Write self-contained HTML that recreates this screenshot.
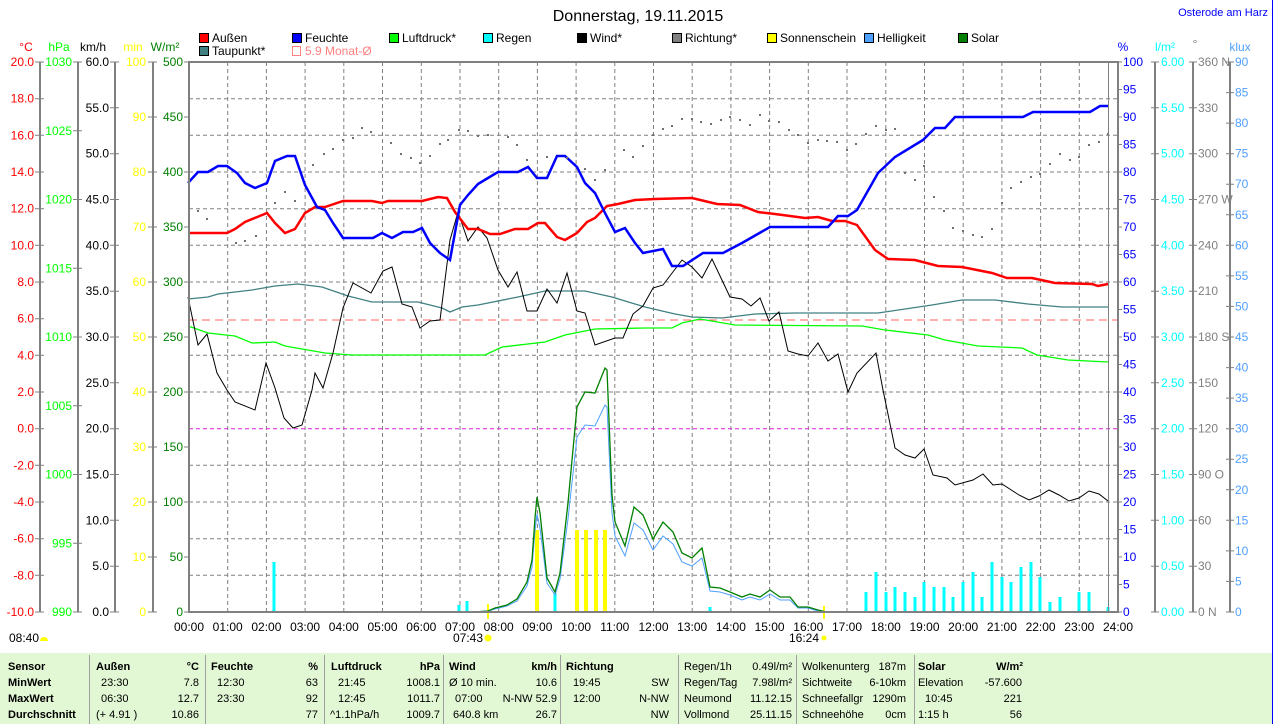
<!DOCTYPE html>
<html><head><meta charset="utf-8"><style>
html,body{margin:0;padding:0;background:#fff;}
svg{display:block;font-family:"Liberation Sans",sans-serif;}
</style></head><body>
<svg width="1274" height="724" viewBox="0 0 1274 724" xmlns="http://www.w3.org/2000/svg">
<rect width="1274" height="724" fill="#fff"/>
<text x="638" y="21" font-size="16" text-anchor="middle" fill="#000">Donnerstag, 19.11.2015</text>
<text x="1268" y="16" font-size="11" text-anchor="end" fill="#0000ff">Osterode am Harz</text>
<line x1="1272.5" y1="0" x2="1272.5" y2="724" stroke="#0000ff" stroke-width="1"/>
<g font-size="12" fill="#000">
<rect x="199.5" y="33.5" width="9" height="9" fill="#ff0000" stroke="#000"/><text x="212" y="42">Außen</text>
<rect x="292.5" y="33.5" width="9" height="9" fill="#0000ff" stroke="#000"/><text x="305" y="42">Feuchte</text>
<rect x="389.5" y="33.5" width="9" height="9" fill="#00ff00" stroke="#000"/><text x="402" y="42">Luftdruck*</text>
<rect x="483.5" y="33.5" width="9" height="9" fill="#00ffff" stroke="#000"/><text x="496" y="42">Regen</text>
<rect x="577.5" y="33.5" width="9" height="9" fill="#000" stroke="#000"/><text x="590" y="42">Wind*</text>
<rect x="672.5" y="33.5" width="9" height="9" fill="#808080" stroke="#000"/><text x="685" y="42">Richtung*</text>
<rect x="767.5" y="33.5" width="9" height="9" fill="#ffff00" stroke="#000"/><text x="780" y="42">Sonnenschein</text>
<rect x="864.5" y="33.5" width="9" height="9" fill="#50a0ff" stroke="#000"/><text x="877" y="42">Helligkeit</text>
<rect x="958.5" y="33.5" width="9" height="9" fill="#008000" stroke="#000"/><text x="971" y="42">Solar</text>
<rect x="199.5" y="46.5" width="9" height="9" fill="#408080" stroke="#000"/><text x="212" y="55">Taupunkt*</text>
<rect x="292.5" y="46.5" width="8" height="9" fill="none" stroke="#ff8080"/><text x="305" y="55" fill="#ff8080">5.9 Monat-Ø</text>
</g>
<g font-size="12">
<text x="26" y="51" text-anchor="middle" fill="#ff0000">°C</text>
<text x="59" y="51" text-anchor="middle" fill="#00ff00">hPa</text>
<text x="93" y="51" text-anchor="middle" fill="#000">km/h</text>
<text x="133" y="51" text-anchor="middle" fill="#ffff00">min</text>
<text x="165" y="51" text-anchor="middle" fill="#008000">W/m²</text>
<text x="1123" y="51" text-anchor="middle" fill="#0000ff">%</text>
<text x="1165" y="51" text-anchor="middle" fill="#00ffff">l/m²</text>
<text x="1195" y="48" text-anchor="middle" fill="#808080">°</text>
<text x="1240" y="51" text-anchor="middle" fill="#50a0ff">klux</text>
</g>
<g stroke="#808080" stroke-width="2">
<line x1="40" y1="62" x2="40" y2="612"/>
<line x1="78" y1="62" x2="78" y2="612"/>
<line x1="115" y1="62" x2="115" y2="612"/>
<line x1="153" y1="62" x2="153" y2="612"/>
<line x1="1155" y1="62" x2="1155" y2="612"/>
<line x1="1193" y1="62" x2="1193" y2="612"/>
<line x1="1230" y1="62" x2="1230" y2="612"/>
</g>
<g stroke="#808080" stroke-width="1" stroke-dasharray="4,3">
<line x1="227.7" y1="62" x2="227.7" y2="612"/><line x1="266.4" y1="62" x2="266.4" y2="612"/><line x1="305.1" y1="62" x2="305.1" y2="612"/><line x1="343.8" y1="62" x2="343.8" y2="612"/><line x1="382.5" y1="62" x2="382.5" y2="612"/><line x1="421.3" y1="62" x2="421.3" y2="612"/><line x1="460" y1="62" x2="460" y2="612"/><line x1="498.7" y1="62" x2="498.7" y2="612"/><line x1="537.4" y1="62" x2="537.4" y2="612"/><line x1="576.1" y1="62" x2="576.1" y2="612"/><line x1="614.8" y1="62" x2="614.8" y2="612"/><line x1="653.5" y1="62" x2="653.5" y2="612"/><line x1="692.2" y1="62" x2="692.2" y2="612"/><line x1="730.9" y1="62" x2="730.9" y2="612"/><line x1="769.6" y1="62" x2="769.6" y2="612"/><line x1="808.3" y1="62" x2="808.3" y2="612"/><line x1="847" y1="62" x2="847" y2="612"/><line x1="885.8" y1="62" x2="885.8" y2="612"/><line x1="924.5" y1="62" x2="924.5" y2="612"/><line x1="963.2" y1="62" x2="963.2" y2="612"/><line x1="1001.9" y1="62" x2="1001.9" y2="612"/><line x1="1040.6" y1="62" x2="1040.6" y2="612"/><line x1="1079.3" y1="62" x2="1079.3" y2="612"/>
<line x1="189" y1="98.7" x2="1118" y2="98.7"/><line x1="189" y1="135.3" x2="1118" y2="135.3"/><line x1="189" y1="172" x2="1118" y2="172"/><line x1="189" y1="208.7" x2="1118" y2="208.7"/><line x1="189" y1="245.3" x2="1118" y2="245.3"/><line x1="189" y1="282" x2="1118" y2="282"/><line x1="189" y1="355.3" x2="1118" y2="355.3"/><line x1="189" y1="392" x2="1118" y2="392"/><line x1="189" y1="465.3" x2="1118" y2="465.3"/><line x1="189" y1="502" x2="1118" y2="502"/><line x1="189" y1="538.7" x2="1118" y2="538.7"/><line x1="189" y1="575.3" x2="1118" y2="575.3"/>
<line x1="189" y1="428.7" x2="1118" y2="428.7" stroke="#e020e0"/>
<line x1="189" y1="320" x2="1118" y2="320" stroke="#ff6060" stroke-dasharray="8,5"/>
</g>
<g font-size="12" text-anchor="end" dominant-baseline="central">
<g fill="#ff0000"><text x="34" y="62">20.0</text><text x="34" y="98.7">18.0</text><text x="34" y="135.3">16.0</text><text x="34" y="172">14.0</text><text x="34" y="208.7">12.0</text><text x="34" y="245.3">10.0</text><text x="34" y="282">8.0</text><text x="34" y="318.7">6.0</text><text x="34" y="355.3">4.0</text><text x="34" y="392">2.0</text><text x="34" y="428.7">0.0</text><text x="34" y="465.3">-2.0</text><text x="34" y="502">-4.0</text><text x="34" y="538.7">-6.0</text><text x="34" y="575.3">-8.0</text><text x="34" y="612">-10.0</text></g>
<g fill="#00ff00"><text x="72" y="62">1030</text><text x="72" y="130.75">1025</text><text x="72" y="199.5">1020</text><text x="72" y="268.25">1015</text><text x="72" y="337">1010</text><text x="72" y="405.75">1005</text><text x="72" y="474.5">1000</text><text x="72" y="543.25">995</text><text x="72" y="612">990</text></g>
<g fill="#000"><text x="109" y="62">60.0</text><text x="109" y="107.8">55.0</text><text x="109" y="153.7">50.0</text><text x="109" y="199.5">45.0</text><text x="109" y="245.3">40.0</text><text x="109" y="291.2">35.0</text><text x="109" y="337">30.0</text><text x="109" y="382.8">25.0</text><text x="109" y="428.7">20.0</text><text x="109" y="474.5">15.0</text><text x="109" y="520.3">10.0</text><text x="109" y="566.2">5.0</text><text x="109" y="612">0.0</text></g>
<g fill="#ffff00"><text x="146" y="62">100</text><text x="146" y="117">90</text><text x="146" y="172">80</text><text x="146" y="227">70</text><text x="146" y="282">60</text><text x="146" y="337">50</text><text x="146" y="392">40</text><text x="146" y="447">30</text><text x="146" y="502">20</text><text x="146" y="557">10</text><text x="146" y="612">0</text></g>
<g fill="#008000"><text x="183" y="62">500</text><text x="183" y="117">450</text><text x="183" y="172">400</text><text x="183" y="227">350</text><text x="183" y="282">300</text><text x="183" y="337">250</text><text x="183" y="392">200</text><text x="183" y="447">150</text><text x="183" y="502">100</text><text x="183" y="557">50</text><text x="183" y="612">0</text></g>
</g>
<g stroke="#808080" stroke-width="1">
<path d="M35 62h9M35 98.7h9M35 135.3h9M35 172h9M35 208.7h9M35 245.3h9M35 282h9M35 318.7h9M35 355.3h9M35 392h9M35 428.7h9M35 465.3h9M35 502h9M35 538.7h9M35 575.3h9M35 612h9"/>
<path d="M73 62h9M73 130.75h9M73 199.5h9M73 268.25h9M73 337h9M73 405.75h9M73 474.5h9M73 543.25h9M73 612h9"/>
<path d="M110 62h9M110 107.8h9M110 153.7h9M110 199.5h9M110 245.3h9M110 291.2h9M110 337h9M110 382.8h9M110 428.7h9M110 474.5h9M110 520.3h9M110 566.2h9M110 612h9"/>
<path d="M148 62h9M148 117h9M148 172h9M148 227h9M148 282h9M148 337h9M148 392h9M148 447h9M148 502h9M148 557h9M148 612h9"/>
<path d="M184 62h5M184 117h5M184 172h5M184 227h5M184 282h5M184 337h5M184 392h5M184 447h5M184 502h5M184 557h5M184 612h5"/>
<path d="M1118 62h4M1118 89.5h4M1118 117h4M1118 144.5h4M1118 172h4M1118 199.5h4M1118 227h4M1118 254.5h4M1118 282h4M1118 309.5h4M1118 337h4M1118 364.5h4M1118 392h4M1118 419.5h4M1118 447h4M1118 474.5h4M1118 502h4M1118 529.5h4M1118 557h4M1118 584.5h4M1118 612h4"/>
<path d="M1151 62h8M1151 107.8h8M1151 153.7h8M1151 199.5h8M1151 245.3h8M1151 291.2h8M1151 337h8M1151 382.8h8M1151 428.7h8M1151 474.5h8M1151 520.3h8M1151 566.2h8M1151 612h8"/>
<path d="M1189 62h8M1189 107.8h8M1189 153.7h8M1189 199.5h8M1189 245.3h8M1189 291.2h8M1189 337h8M1189 382.8h8M1189 428.7h8M1189 474.5h8M1189 520.3h8M1189 566.2h8M1189 612h8"/>
<path d="M1226 62h8M1226 92.6h8M1226 123.1h8M1226 153.7h8M1226 184.2h8M1226 214.8h8M1226 245.3h8M1226 275.9h8M1226 306.4h8M1226 337h8M1226 367.6h8M1226 398.1h8M1226 428.7h8M1226 459.2h8M1226 489.8h8M1226 520.3h8M1226 550.9h8M1226 581.4h8M1226 612h8"/>
</g>
<g font-size="12" dominant-baseline="central">
<g fill="#0000ff"><text x="1123" y="62">100</text><text x="1123" y="89.5">95</text><text x="1123" y="117">90</text><text x="1123" y="144.5">85</text><text x="1123" y="172">80</text><text x="1123" y="199.5">75</text><text x="1123" y="227">70</text><text x="1123" y="254.5">65</text><text x="1123" y="282">60</text><text x="1123" y="309.5">55</text><text x="1123" y="337">50</text><text x="1123" y="364.5">45</text><text x="1123" y="392">40</text><text x="1123" y="419.5">35</text><text x="1123" y="447">30</text><text x="1123" y="474.5">25</text><text x="1123" y="502">20</text><text x="1123" y="529.5">15</text><text x="1123" y="557">10</text><text x="1123" y="584.5">5</text><text x="1123" y="612">0</text></g>
<g fill="#00ffff"><text x="1161" y="62">6.00</text><text x="1161" y="107.8">5.50</text><text x="1161" y="153.7">5.00</text><text x="1161" y="199.5">4.50</text><text x="1161" y="245.3">4.00</text><text x="1161" y="291.2">3.50</text><text x="1161" y="337">3.00</text><text x="1161" y="382.8">2.50</text><text x="1161" y="428.7">2.00</text><text x="1161" y="474.5">1.50</text><text x="1161" y="520.3">1.00</text><text x="1161" y="566.2">0.50</text><text x="1161" y="612">0.00</text></g>
<g fill="#808080"><text x="1198" y="62">360 N</text><text x="1198" y="107.8">330</text><text x="1198" y="153.7">300</text><text x="1198" y="199.5">270 W</text><text x="1198" y="245.3">240</text><text x="1198" y="291.2">210</text><text x="1198" y="337">180 S</text><text x="1198" y="382.8">150</text><text x="1198" y="428.7">120</text><text x="1198" y="474.5">90  O</text><text x="1198" y="520.3">60</text><text x="1198" y="566.2">30</text><text x="1198" y="612">0    N</text></g>
<g fill="#50a0ff"><text x="1235" y="62">90</text><text x="1235" y="92.6">85</text><text x="1235" y="123.1">80</text><text x="1235" y="153.7">75</text><text x="1235" y="184.2">70</text><text x="1235" y="214.8">65</text><text x="1235" y="245.3">60</text><text x="1235" y="275.9">55</text><text x="1235" y="306.4">50</text><text x="1235" y="337">45</text><text x="1235" y="367.6">40</text><text x="1235" y="398.1">35</text><text x="1235" y="428.7">30</text><text x="1235" y="459.2">25</text><text x="1235" y="489.8">20</text><text x="1235" y="520.3">15</text><text x="1235" y="550.9">10</text><text x="1235" y="581.4">5</text><text x="1235" y="612">0</text></g>
</g>
<g stroke="#00ffff" stroke-width="3">
<path d="M274 612V562M459 612V605M467 612V601M555 612V593M710 612V607M866 612V592M876 612V572M886 612V592M895 612V587M905 612V592M915 612V597M924 612V582M934 612V587M944 612V587M953 612V597M963 612V582M973 612V572M982 612V597M992 612V562M1002 612V577M1011 612V582M1021 612V567M1031 612V562M1040 612V577M1050 612V602M1060 612V597M1079 612V592M1089 612V592M1108 612V607"/>
</g>
<g stroke="#ffff00" stroke-width="4">
<path d="M537 612V530M577 612V530M586 612V530M596 612V530M605 612V530"/>
<path d="M488 604V619M824 606V619" stroke-width="2"/>
</g>
<polyline fill="none" stroke="#50a0ff" stroke-width="1" points="473,612 488,611 495,609 507,606 517,601 527,586 532,567 535,531 537,514 540,528 547,583 555,595 560,579 568,519 577,437 585,425 595,426 605,405 607,407 612,513 615,536 625,556 634,523 643,530 653,550 663,536 673,544 682,562 692,566 702,558 710,591 720,592 730,595 742,600 750,597 760,600 770,594 780,600 790,600 798,608 808,608 818,611 827,612"/>
<polyline fill="none" stroke="#008000" stroke-width="1.3" points="473,612 488,611 495,608 507,605 517,599 527,582 532,560 535,518 537,497 540,513 547,578 555,592 560,573 568,503 577,407 585,392 595,393 605,368 607,370 612,495 615,522 625,546 634,507 643,515 653,539 663,522 673,532 682,553 692,558 702,548 710,587 720,588 730,592 742,597 750,594 760,597 770,590 780,597 790,597 798,607 808,607 818,610 827,612"/>
<polyline fill="none" stroke="#00ff00" stroke-width="1.3" points="188,326 208,333 235,336 252,343 275,342 285,346 325,353 352,355 485,355 502,347 545,342 565,335 595,329 645,328 672,328 682,323 700,319 735,325 862,326 885,330 928,335 945,340 978,346 1022,348 1037,355 1068,360 1108,362"/>
<polyline fill="none" stroke="#408080" stroke-width="1.3" points="188,299 208,297 218,294 252,290 275,286 298,284 322,287 348,296 372,302 418,302 442,308 450,312 462,307 478,305 518,297 545,291 585,291 612,297 635,304 645,307 675,314 692,317 722,318 755,314 795,313 878,313 932,305 962,300 995,300 1028,304 1062,307 1108,307"/>
<polyline fill="none" stroke="#000" stroke-width="1" points="188,297 198,345 207,334 217,373 227,390 235,402 255,410 266,363 275,388 284,418 293,428 302,425 312,390 315,373 323,388 333,353 343,308 353,283 371,293 383,271 392,267 402,304 412,307 420,328 430,321 440,320 450,240 458,212 468,241 478,227 487,238 498,270 508,287 517,272 527,311 537,311 547,289 557,303 567,273 577,311 585,313 595,345 615,338 623,338 633,314 643,306 653,288 663,285 682,260 692,267 702,278 712,259 730,297 742,299 751,306 760,298 769,321 779,312 788,351 798,354 808,356 818,343 828,361 838,354 848,392 857,373 876,353 883,390 895,448 905,455 915,458 924,449 933,475 947,478 955,485 973,480 983,474 993,485 1002,484 1019,495 1029,500 1039,496 1049,490 1059,495 1069,501 1079,498 1089,491 1099,494 1108,501"/>
<polyline fill="none" stroke="#ff0000" stroke-width="2.5" points="188,233 227,233 235,229 245,222 267,213 275,223 285,233 295,229 305,213 315,207 325,207 343,201 372,201 382,203 388,201 422,201 438,197 447,198 455,212 468,229 478,229 490,234 500,234 515,229 528,229 538,223 545,223 557,237 565,240 577,233 587,222 595,218 607,206 618,204 635,200 655,199 692,198 717,204 740,205 758,212 775,214 805,218 818,217 832,221 845,221 857,225 875,250 888,259 915,260 938,266 962,267 992,273 1007,278 1032,278 1055,283 1092,284 1098,286 1108,284"/>
<polyline fill="none" stroke="#0000ff" stroke-width="2.5" points="188,183 198,172 208,172 218,166 227,166 237,173 245,183 255,188 267,183 275,161 287,156 295,156 305,185 317,207 325,210 333,223 343,238 373,238 382,233 392,238 403,232 413,232 422,228 430,243 440,253 450,260 460,205 468,195 478,184 488,178 498,172 518,172 528,167 537,178 547,178 557,156 565,156 577,167 585,183 595,193 605,213 615,232 625,228 635,243 643,253 663,249 672,266 683,266 703,253 723,253 742,243 770,227 828,227 838,216 848,216 857,210 878,173 895,157 923,140 935,128 945,128 955,117 1023,117 1033,112 1090,112 1100,106 1108,106"/>
<g fill="#707070">
<rect x="197" y="210" width="2" height="2"/><rect x="206" y="218" width="2" height="2"/><rect x="235" y="242" width="2" height="2"/><rect x="244" y="240" width="2" height="2"/><rect x="255" y="235" width="2" height="2"/><rect x="274" y="202" width="2" height="2"/><rect x="284" y="191" width="2" height="2"/><rect x="294" y="200" width="2" height="2"/><rect x="312" y="164" width="2" height="2"/><rect x="323" y="153" width="2" height="2"/><rect x="332" y="148" width="2" height="2"/><rect x="342" y="139" width="2" height="2"/><rect x="352" y="137" width="2" height="2"/><rect x="361" y="127" width="2" height="2"/><rect x="370" y="131" width="2" height="2"/><rect x="390" y="142" width="2" height="2"/><rect x="400" y="153" width="2" height="2"/><rect x="410" y="157" width="2" height="2"/><rect x="419" y="162" width="2" height="2"/><rect x="429" y="155" width="2" height="2"/><rect x="439" y="143" width="2" height="2"/><rect x="447" y="139" width="2" height="2"/><rect x="458" y="129" width="2" height="2"/><rect x="467" y="130" width="2" height="2"/><rect x="477" y="135" width="2" height="2"/><rect x="487" y="134" width="2" height="2"/><rect x="507" y="136" width="2" height="2"/><rect x="516" y="144" width="2" height="2"/><rect x="526" y="159" width="2" height="2"/><rect x="546" y="156" width="2" height="2"/><rect x="566" y="157" width="2" height="2"/><rect x="584" y="168" width="2" height="2"/><rect x="594" y="179" width="2" height="2"/><rect x="604" y="169" width="2" height="2"/><rect x="623" y="149" width="2" height="2"/><rect x="632" y="156" width="2" height="2"/><rect x="642" y="145" width="2" height="2"/><rect x="652" y="134" width="2" height="2"/><rect x="662" y="128" width="2" height="2"/><rect x="671" y="125" width="2" height="2"/><rect x="681" y="118" width="2" height="2"/><rect x="691" y="118" width="2" height="2"/><rect x="700" y="121" width="2" height="2"/><rect x="710" y="123" width="2" height="2"/><rect x="720" y="119" width="2" height="2"/><rect x="729" y="116" width="2" height="2"/><rect x="739" y="119" width="2" height="2"/><rect x="749" y="124" width="2" height="2"/><rect x="759" y="114" width="2" height="2"/><rect x="768" y="120" width="2" height="2"/><rect x="778" y="121" width="2" height="2"/><rect x="788" y="129" width="2" height="2"/><rect x="797" y="134" width="2" height="2"/><rect x="807" y="142" width="2" height="2"/><rect x="817" y="139" width="2" height="2"/><rect x="826" y="140" width="2" height="2"/><rect x="836" y="141" width="2" height="2"/><rect x="846" y="149" width="2" height="2"/><rect x="855" y="143" width="2" height="2"/><rect x="865" y="133" width="2" height="2"/><rect x="875" y="125" width="2" height="2"/><rect x="885" y="129" width="2" height="2"/><rect x="894" y="128" width="2" height="2"/><rect x="904" y="172" width="2" height="2"/><rect x="914" y="179" width="2" height="2"/><rect x="923" y="165" width="2" height="2"/><rect x="933" y="196" width="2" height="2"/><rect x="943" y="210" width="2" height="2"/><rect x="952" y="227" width="2" height="2"/><rect x="962" y="230" width="2" height="2"/><rect x="972" y="234" width="2" height="2"/><rect x="981" y="236" width="2" height="2"/><rect x="991" y="228" width="2" height="2"/><rect x="1001" y="202" width="2" height="2"/><rect x="1010" y="187" width="2" height="2"/><rect x="1020" y="181" width="2" height="2"/><rect x="1030" y="176" width="2" height="2"/><rect x="1039" y="173" width="2" height="2"/><rect x="1049" y="163" width="2" height="2"/><rect x="1059" y="153" width="2" height="2"/><rect x="1069" y="159" width="2" height="2"/><rect x="1078" y="156" width="2" height="2"/><rect x="1088" y="144" width="2" height="2"/><rect x="1098" y="141" width="2" height="2"/><rect x="1107" y="133" width="2" height="2"/>
</g>
<line x1="1108.5" y1="62" x2="1108.5" y2="612" stroke="#808080" stroke-width="1"/>
<g stroke="#808080" stroke-width="2" fill="none">
<path d="M189 62H1118V612H189Z"/>
</g>
<g font-size="12" text-anchor="middle" fill="#000">
<text x="189" y="631">00:00</text><text x="227.7" y="631">01:00</text><text x="266.4" y="631">02:00</text><text x="305.1" y="631">03:00</text><text x="343.8" y="631">04:00</text><text x="382.5" y="631">05:00</text><text x="421.3" y="631">06:00</text><text x="460" y="631">07:00</text><text x="498.7" y="631">08:00</text><text x="537.4" y="631">09:00</text><text x="576.1" y="631">10:00</text><text x="614.8" y="631">11:00</text><text x="653.5" y="631">12:00</text><text x="692.2" y="631">13:00</text><text x="730.9" y="631">14:00</text><text x="769.6" y="631">15:00</text><text x="808.3" y="631">16:00</text><text x="847" y="631">17:00</text><text x="885.8" y="631">18:00</text><text x="924.5" y="631">19:00</text><text x="963.2" y="631">20:00</text><text x="1001.9" y="631">21:00</text><text x="1040.6" y="631">22:00</text><text x="1079.3" y="631">23:00</text><text x="1118" y="631">24:00</text>
<text x="24" y="642">08:40</text>
<text x="468" y="642">07:43</text>
<text x="804" y="642">16:24</text>
</g>
<path d="M40 641a4 4 0 0 1 8 0z" fill="#ffff00"/>
<circle cx="488" cy="638" r="3.5" fill="#ffff00"/>
<circle cx="824" cy="638" r="2.5" fill="#ffff00"/>
<rect x="0" y="653" width="1272" height="71" fill="#e2f7d4"/>
<g stroke="#a0a0a0" stroke-width="1">
<line x1="89.5" y1="655" x2="89.5" y2="724"/><line x1="205.5" y1="655" x2="205.5" y2="724"/><line x1="324.5" y1="655" x2="324.5" y2="724"/><line x1="443.5" y1="655" x2="443.5" y2="724"/><line x1="560.5" y1="655" x2="560.5" y2="724"/><line x1="678.5" y1="655" x2="678.5" y2="724"/><line x1="796.5" y1="655" x2="796.5" y2="724"/><line x1="914.5" y1="655" x2="914.5" y2="724"/>
</g>
<g font-size="11" fill="#000">
<g font-weight="bold"><text x="8" y="670">Sensor</text><text x="8" y="686">MinWert</text><text x="8" y="702">MaxWert</text><text x="8" y="718">Durchschnitt</text>
<text x="96" y="670">Außen</text><text x="199" y="670" text-anchor="end">°C</text>
<text x="211" y="670">Feuchte</text><text x="318" y="670" text-anchor="end">%</text>
<text x="331" y="670">Luftdruck</text><text x="440" y="670" text-anchor="end">hPa</text>
<text x="449" y="670">Wind</text><text x="557" y="670" text-anchor="end">km/h</text>
<text x="566" y="670">Richtung</text>
<text x="918" y="670">Solar</text><text x="1023" y="670" text-anchor="end">W/m²</text></g>
<text x="101" y="686">23:30</text><text x="199" y="686" text-anchor="end">7.8</text>
<text x="101" y="702">06:30</text><text x="199" y="702" text-anchor="end">12.7</text>
<text x="96" y="718">(+ 4.91 )</text><text x="199" y="718" text-anchor="end">10.86</text>
<text x="217" y="686">12:30</text><text x="318" y="686" text-anchor="end">63</text>
<text x="217" y="702">23:30</text><text x="318" y="702" text-anchor="end">92</text>
<text x="318" y="718" text-anchor="end">77</text>
<text x="338" y="686">21:45</text><text x="440" y="686" text-anchor="end">1008.1</text>
<text x="338" y="702">12:45</text><text x="440" y="702" text-anchor="end">1011.7</text>
<text x="330" y="718">^1.1hPa/h</text><text x="440" y="718" text-anchor="end">1009.7</text>
<text x="449" y="686">Ø 10 min.</text><text x="557" y="686" text-anchor="end">10.6</text>
<text x="455" y="702">07:00</text><text x="557" y="702" text-anchor="end">N-NW 52.9</text>
<text x="453" y="718">640.8 km</text><text x="557" y="718" text-anchor="end">26.7</text>
<text x="573" y="686">19:45</text><text x="669" y="686" text-anchor="end">SW</text>
<text x="573" y="702">12:00</text><text x="669" y="702" text-anchor="end">N-NW</text>
<text x="669" y="718" text-anchor="end">NW</text>
<text x="684" y="670">Regen/1h</text><text x="792" y="670" text-anchor="end">0.49l/m²</text>
<text x="684" y="686">Regen/Tag</text><text x="792" y="686" text-anchor="end">7.98l/m²</text>
<text x="684" y="702">Neumond</text><text x="792" y="702" text-anchor="end">11.12.15</text>
<text x="684" y="718">Vollmond</text><text x="792" y="718" text-anchor="end">25.11.15</text>
<text x="802" y="670">Wolkenunterg</text><text x="906" y="670" text-anchor="end">187m</text>
<text x="802" y="686">Sichtweite</text><text x="906" y="686" text-anchor="end">6-10km</text>
<text x="802" y="702">Schneefallgr</text><text x="906" y="702" text-anchor="end">1290m</text>
<text x="802" y="718">Schneehöhe</text><text x="906" y="718" text-anchor="end">0cm</text>
<text x="918" y="686">Elevation</text><text x="1022" y="686" text-anchor="end">-57.600</text>
<text x="925" y="702">10:45</text><text x="1022" y="702" text-anchor="end">221</text>
<text x="918" y="718">1:15 h</text><text x="1022" y="718" text-anchor="end">56</text>
</g>
</svg>
</body></html>
